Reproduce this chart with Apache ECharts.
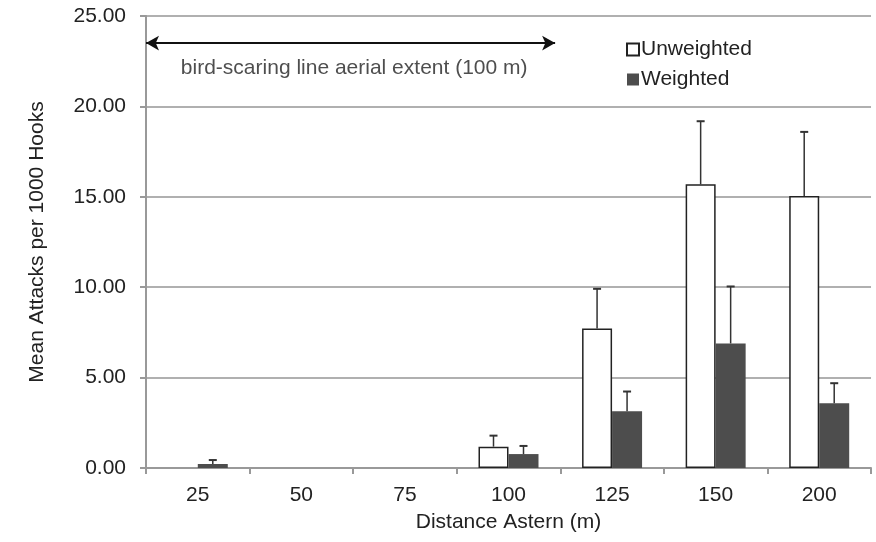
<!DOCTYPE html>
<html>
<head>
<meta charset="utf-8">
<script src="https://cdn.jsdelivr.net/npm/echarts@6/dist/echarts.min.js"></script>
<style>html,body{margin:0;padding:0;background:#fff;}#c{width:876px;height:542px;}</style>
</head>
<body>
<div id="c"></div>
<script>
const categories = ['25', '50', '75', '100', '125', '150', '200'];
const unweighted = [0, 0, 0, 1.18, 7.72, 15.69, 15.04];
const unweightedErrTop = [0, 0, 0, 1.79, 9.91, 19.18, 18.59];
const weighted = [0.22, 0, 0, 0.77, 3.14, 6.89, 3.58];
const weightedErrTop = [0.44, 0, 0, 1.22, 4.23, 10.04, 4.69];
const yTicks = [0, 5, 10, 15, 20, 25];
const arrowStart = 0, arrowEnd = 3.95, arrowY = 23.5;
const annotationText = 'bird-scaring line aerial extent (100 m)';
const annotationPos = [2.01, 22.1];

const FONT = 'Liberation Sans, Arial, sans-serif';
const BAR_W = 30;
const chart = echarts.init(document.getElementById('c'));

const hideZero = arr => arr.map(v => (v === 0 ? '-' : v));

function errSeries(name, base, top, side) {
  return {
    type: 'custom',
    name: name + ' err',
    xAxisIndex: 0,
    yAxisIndex: 0,
    z: 5,
    silent: true,
    data: categories.map((c, i) => [i, base[i], top[i]]),
    renderItem: function (params, api) {
      const i = api.value(0);
      const b = api.value(1), t = api.value(2);
      if (t <= b) return null;
      const p0 = api.coord([i, b]);
      const p1 = api.coord([i, t]);
      const x = p0[0] + side * BAR_W / 2;
      return {
        type: 'group',
        children: [
          { type: 'line', shape: { x1: x, y1: p0[1], x2: x, y2: p1[1] }, style: { stroke: '#333', lineWidth: 1.5 } },
          { type: 'line', shape: { x1: x - 4, y1: p1[1], x2: x + 4, y2: p1[1] }, style: { stroke: '#333', lineWidth: 2 } }
        ]
      };
    }
  };
}

const option = {
  animation: false,
  backgroundColor: '#fff',
  textStyle: { fontFamily: FONT },
  grid: { left: 146, right: 5, top: 16, bottom: 74, containLabel: false },
  legend: {
    data: ['Unweighted', 'Weighted'],
    orient: 'vertical',
    left: 621,
    top: 34,
    icon: 'rect',
    itemWidth: 12,
    itemHeight: 12,
    itemGap: 9,
    textStyle: { fontFamily: FONT, fontSize: 21, color: '#222', padding: [0, 0, 0, -3] }
  },
  xAxis: [
    {
      type: 'category',
      data: categories,
      name: 'Distance Astern (m)',
      nameLocation: 'middle',
      nameGap: 44,
      nameTextStyle: { fontFamily: FONT, fontSize: 21, color: '#222' },
      axisLine: { lineStyle: { color: '#999', width: 2 } },
      axisTick: { show: true, length: 6, lineStyle: { color: '#999', width: 2 } },
      axisLabel: { fontFamily: FONT, fontSize: 21, color: '#222', margin: 17 },
      splitLine: { show: false }
    },
    {
      type: 'value',
      min: 0,
      max: 7,
      show: false
    }
  ],
  yAxis: {
    type: 'value',
    min: 0,
    max: 25,
    interval: 5,
    name: 'Mean Attacks per 1000 Hooks',
    nameLocation: 'middle',
    nameGap: 98,
    nameRotate: 90,
    nameTextStyle: { fontFamily: FONT, fontSize: 21, color: '#222' },
    axisLine: { show: true, lineStyle: { color: '#999', width: 2 } },
    axisTick: { show: true, length: 6, lineStyle: { color: '#999', width: 2 } },
    axisLabel: {
      fontFamily: FONT, fontSize: 21, color: '#222', margin: 20,
      formatter: v => yTicks.includes(v) ? v.toFixed(2) : ''
    },
    splitLine: { show: true, lineStyle: { color: '#b0b0b0', width: 2 } }
  },
  series: [
    {
      name: 'Unweighted',
      type: 'bar',
      data: hideZero(unweighted),
      barWidth: BAR_W,
      barGap: '0%',
      itemStyle: { color: '#fff', borderColor: '#222', borderWidth: 1.5 }
    },
    {
      name: 'Weighted',
      type: 'bar',
      data: hideZero(weighted),
      barWidth: BAR_W,
      barGap: '0%',
      itemStyle: { color: '#4d4d4d', borderColor: '#4d4d4d', borderWidth: 0 }
    },
    errSeries('Unweighted', unweighted, unweightedErrTop, -1),
    errSeries('Weighted', weighted, weightedErrTop, 1),
    {
      type: 'line',
      xAxisIndex: 1,
      yAxisIndex: 0,
      data: [],
      silent: true,
      markLine: {
        silent: true,
        symbol: ['arrow', 'arrow'],
        symbolSize: [11, 13],
        label: { show: false },
        lineStyle: { color: '#111', width: 2, type: 'solid' },
        data: [[{ coord: [arrowStart, arrowY] }, { coord: [arrowEnd, arrowY] }]]
      }
    },
    {
      type: 'scatter',
      xAxisIndex: 1,
      yAxisIndex: 0,
      silent: true,
      symbolSize: 0,
      data: [annotationPos],
      label: {
        show: true,
        position: 'inside',
        formatter: annotationText,
        fontFamily: FONT,
        fontSize: 21,
        color: '#222'
      }
    }
  ]
};
chart.setOption(option);
</script>
</body>
</html>
